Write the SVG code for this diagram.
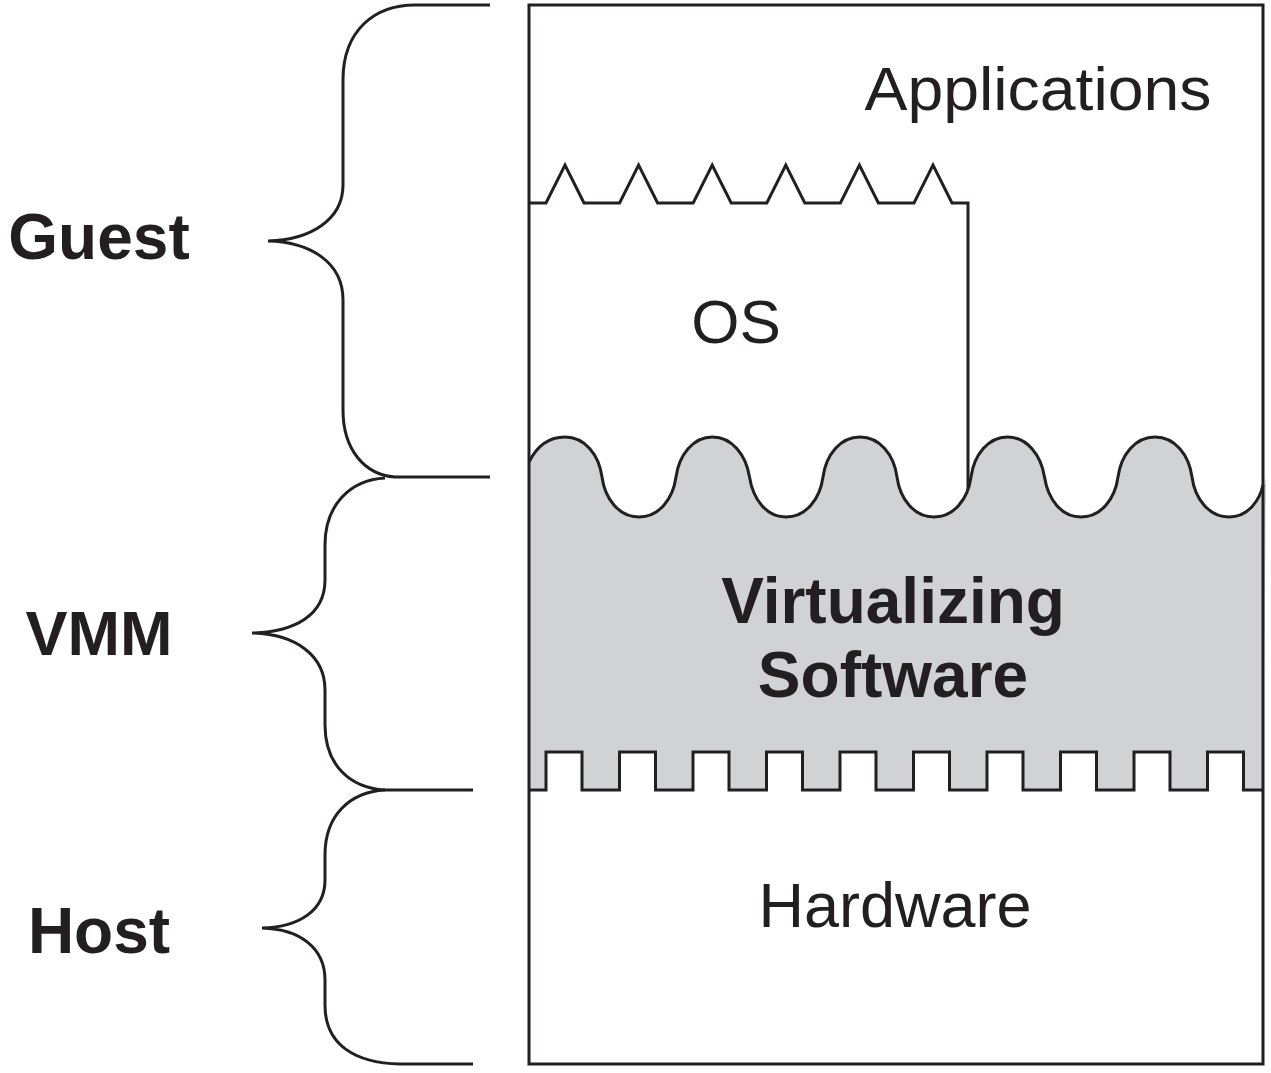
<svg xmlns="http://www.w3.org/2000/svg" width="1271" height="1073" viewBox="0 0 1271 1073">
<style>
.ln{fill:none;stroke:#231f20;stroke-width:3;stroke-linejoin:miter}
.t{font-family:"Liberation Sans",Arial,sans-serif;fill:#231f20;text-anchor:middle}
.b{font-weight:bold}
</style>
<rect width="1271" height="1073" fill="#ffffff"/>
<g id="braces">
<path class="ln" d="M490,5 L415,5 C375,5 343,30 343,80 L343,185 C343,220 310,240 268,241 C310,242 343,262 343,300 L343,410 C343,450 365,475 395,477 L490,477"/>
<path class="ln" d="M385,478 C350,480 325,505 325,545 L325,580 C325,615 295,632 252,633 C295,634 325,655 325,690 L325,725 C325,765 350,788 385,790 L473,790"/>
<path class="ln" d="M385,790 C350,792 325,815 325,855 L325,880 C325,910 300,927 262,928 C300,929 325,948 325,980 L325,1005 C325,1045 355,1063 400,1064 L473,1064"/>
</g>
<g id="os">
<path class="ln" d="M529,203 L546,203 L565,165 L584,203 L619.6,203 L638.6,165 L657.6,203 L693.2,203 L712.2,165 L731.2,203 L766.8,203 L785.8,165 L804.8,203 L840.4,203 L859.4,165 L878.4,203 L914,203 L933,165 L952,203 L968,203 L968,505"/>
</g>
<g id="virtualizing">
<path fill="#d1d2d4" d="M529,462 C537,446 548,437 565,437 C585,437 599,455 602,477 C605,499 619,517 639,517 C659,517 673,499 676,477 C679,455 693,437 712.5,437 C732,437 746,455 749.5,477 C753,499 766,517 786,517 C806,517 820,499 823,477 C826,455 840,437 860,437 C880,437 894,455 897,477 C900,499 914,517 934,517 C954,517 968,499 971,477 C974,455 988,437 1007.5,437 C1027,437 1041,455 1044.5,477 C1048,499 1061,517 1081,517 C1101,517 1115,499 1118,477 C1121,455 1135,437 1155,437 C1175,437 1189,455 1192,477 C1195,499 1209,517 1229,517 C1249,517 1263,499 1266,477 L1263,790 L1243.5,790 L1243.5,752 L1207.5,752 L1207.5,790 L1170,790 L1170,752 L1134,752 L1134,790 L1096.5,790 L1096.5,752 L1060.5,752 L1060.5,790 L1023,790 L1023,752 L987,752 L987,790 L949.5,790 L949.5,752 L913.5,752 L913.5,790 L876,790 L876,752 L840,752 L840,790 L802.5,790 L802.5,752 L766.5,752 L766.5,790 L729,790 L729,752 L693,752 L693,790 L655.5,790 L655.5,752 L619.5,752 L619.5,790 L582,790 L582,752 L546,752 L546,790 L529,790 Z"/>
<path class="ln" d="M529,462 C537,446 548,437 565,437 C585,437 599,455 602,477 C605,499 619,517 639,517 C659,517 673,499 676,477 C679,455 693,437 712.5,437 C732,437 746,455 749.5,477 C753,499 766,517 786,517 C806,517 820,499 823,477 C826,455 840,437 860,437 C880,437 894,455 897,477 C900,499 914,517 934,517 C954,517 968,499 971,477 C974,455 988,437 1007.5,437 C1027,437 1041,455 1044.5,477 C1048,499 1061,517 1081,517 C1101,517 1115,499 1118,477 C1121,455 1135,437 1155,437 C1175,437 1189,455 1192,477 C1195,499 1209,517 1229,517 C1249,517 1260,499 1263,485"/>
<path class="ln" d="M529,790 L546,790 L546,752 L582,752 L582,790 L619.5,790 L619.5,752 L655.5,752 L655.5,790 L693,790 L693,752 L729,752 L729,790 L766.5,790 L766.5,752 L802.5,752 L802.5,790 L840,790 L840,752 L876,752 L876,790 L913.5,790 L913.5,752 L949.5,752 L949.5,790 L987,790 L987,752 L1023,752 L1023,790 L1060.5,790 L1060.5,752 L1096.5,752 L1096.5,790 L1134,790 L1134,752 L1170,752 L1170,790 L1207.5,790 L1207.5,752 L1243.5,752 L1243.5,790 L1263,790"/>
</g>
<g id="frame">
<rect class="ln" x="529" y="5" width="734" height="1059"/>
</g>
<g id="labels">
<text class="t" x="1038" y="110" font-size="62" textLength="347" lengthAdjust="spacingAndGlyphs">Applications</text>
<text class="t" x="736" y="343" font-size="62">OS</text>
<text class="t b" x="893" y="623" font-size="64">Virtualizing</text>
<text class="t b" x="893" y="697" font-size="64">Software</text>
<text class="t" x="895" y="927" font-size="63">Hardware</text>
<text class="t b" x="99" y="259" font-size="64">Guest</text>
<text class="t b" x="99" y="655" font-size="63">VMM</text>
<text class="t b" x="99" y="953" font-size="64">Host</text>
</g>
</svg>
